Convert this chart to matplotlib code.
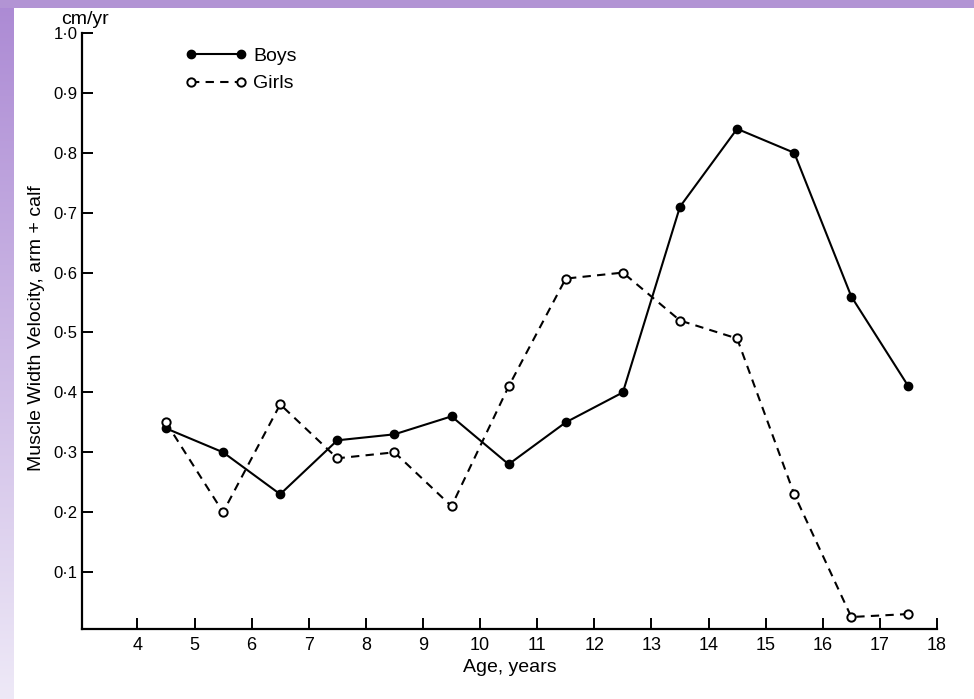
import numpy as np
import matplotlib
matplotlib.use("Agg")
import matplotlib.pyplot as plt
from matplotlib.patches import Rectangle
from matplotlib.ticker import FuncFormatter

plt.rcParams['font.family'] = ['Liberation Sans', 'DejaVu Sans']

# data
ages = [4.5, 5.5, 6.5, 7.5, 8.5, 9.5, 10.5, 11.5, 12.5, 13.5, 14.5, 15.5, 16.5, 17.5]
boys = [0.34, 0.30, 0.23, 0.32, 0.33, 0.36, 0.28, 0.35, 0.40, 0.71, 0.84, 0.80, 0.56, 0.41]
girls = [0.35, 0.20, 0.38, 0.29, 0.30, 0.21, 0.41, 0.59, 0.60, 0.52, 0.49, 0.23, 0.025, 0.03]
x_ticks = list(range(4, 19))
y_ticks = [0.1, 0.2, 0.3, 0.4, 0.5, 0.6, 0.7, 0.8, 0.9, 1.0]

fig = plt.figure(figsize=(9.74, 6.99), dpi=100)

# purple slide frame (top band + fading left band)
bg = fig.add_axes([0, 0, 1, 1], zorder=-10)
bg.set_xlim(0, 974)
bg.set_ylim(699, 0)
bg.axis('off')
grad = np.linspace(0, 1, 256)[:, None]
top_c = np.array([172, 138, 212]) / 255
bot_c = np.array([238, 233, 247]) / 255
img = top_c[None, None, :] * (1 - grad[:, :, None]) + bot_c[None, None, :] * grad[:, :, None]
bg.imshow(img, extent=[0, 14, 699, 0], aspect='auto')
bg.add_patch(Rectangle((0, 0), 974, 8, color='#b294d4', lw=0))

ax = fig.add_axes([82/974, 1 - 629/699, (937 - 82)/974, (629 - 33)/699])
ax.patch.set_alpha(0)

ax.plot(ages, boys, color='black', lw=1.5, marker='o', ms=6,
        mfc='black', mec='black', label='Boys')
ax.plot(ages, girls, color='black', lw=1.5, ls=(0, (4, 3)), marker='o', ms=6,
        mfc='white', mec='black', mew=1.4, label='Girls')

ax.set_xlim(3.03, 18)
ax.set_ylim(0.005, 1.0)
ax.set_xticks(x_ticks)
ax.set_yticks(y_ticks)
ax.yaxis.set_major_formatter(FuncFormatter(lambda v, p: f"{v:.1f}".replace('.', '\u00b7')))
for s in ['top', 'right']:
    ax.spines[s].set_visible(False)
for s in ['left', 'bottom']:
    ax.spines[s].set_linewidth(1.6)
ax.tick_params(direction='in', length=8, width=1.4, labelsize=13, pad=6)
ax.tick_params(axis='y', labelsize=12, pad=3)

leg = ax.legend(loc='upper left', bbox_to_anchor=(0.1, 1.005), frameon=False,
                numpoints=2, handlelength=3.2, fontsize=14, labelspacing=0.5,
                handletextpad=0.3)

fig.text(85/974, 1 - 19/699, 'cm/yr', ha='center', va='center', fontsize=14)
fig.text(37/974, 1 - 328/699, 'Muscle Width Velocity, arm + calf', rotation=90,
         ha='center', va='center', fontsize=14)
fig.text(510/974, 1 - 668/699, 'Age, years', ha='center', va='center', fontsize=14)

fig.savefig('out.png', dpi=100)
